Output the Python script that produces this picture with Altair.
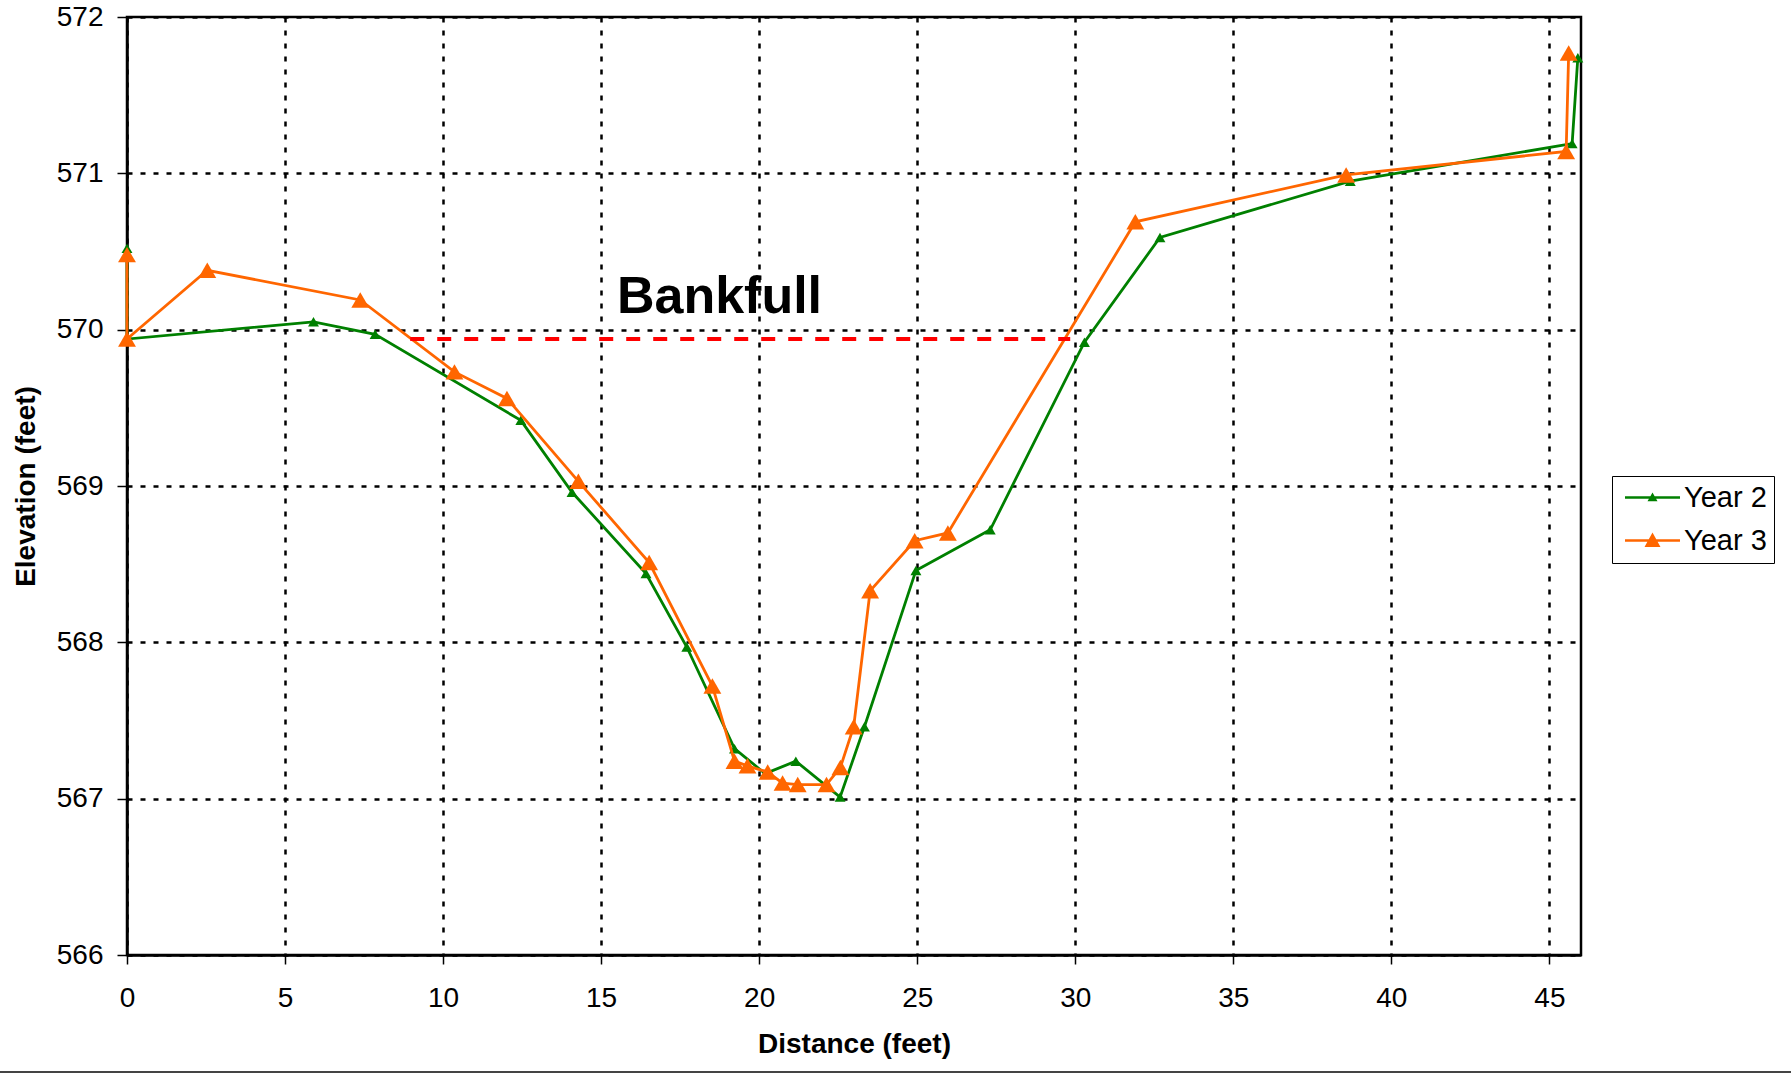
import altair as alt
import pandas as pd

FONT = "Liberation Sans"

series_names = ["Year 2", "Year 3"]
series_colors = ["#008000", "#FF6600"]
marker_sizes = [120, 320]

year2_x = [0, 0, 5.90, 7.85, 12.46, 14.08, 16.42, 17.71, 19.22, 20.19, 21.16,
           22.56, 23.33, 24.96, 27.31, 30.29, 32.68, 38.70, 45.72, 45.90]
year2_y = [570.52, 569.94, 570.05, 569.97, 569.42, 568.96, 568.44, 567.97, 567.32,
           567.16, 567.24, 567.01, 567.46, 568.46, 568.72, 569.92, 570.59, 570.95,
           571.19, 571.74]

year3_x = [0, 0, 2.54, 7.38, 10.36, 12.02, 14.28, 16.52, 18.52, 19.22, 19.63,
           20.27, 20.74, 21.22, 22.13, 22.57, 22.99, 23.51, 24.92, 25.97, 31.90,
           38.57, 45.53, 45.61]
year3_y = [570.48, 569.94, 570.38, 570.19, 569.73, 569.56, 569.03, 568.51, 567.72,
           567.24, 567.21, 567.17, 567.10, 567.09, 567.09, 567.20, 567.46, 568.33,
           568.65, 568.70, 570.69, 570.99, 571.14, 571.77]

bankfull_x_start = [8.96]
bankfull_x_end = [29.84]
bankfull_y = [569.94]
bankfull_label = ["Bankfull"]
bankfull_label_x = [15.5]
bankfull_label_y = [570.106]

x_ticks = [0, 5, 10, 15, 20, 25, 30, 35, 40, 45]
y_ticks = [566, 567, 568, 569, 570, 571, 572]
x_domain = [0, 46]
y_domain = [566, 572]

# legend symbols: line segment + triangle (custom SVG paths)
legend_paths = [
    "M-2.75,-0.12H2.75V0.12H-2.75Z M-0.5,0.38L0,-0.5L0.5,0.38Z",
    "M-2.75,-0.12H2.75V0.12H-2.75Z M-0.8,0.65L0,-0.8L0.8,0.65Z",
]

rows = []
for name, xs, ys in [("Year 2", year2_x, year2_y), ("Year 3", year3_x, year3_y)]:
    for i, (xv, yv) in enumerate(zip(xs, ys)):
        rows.append({"series": name, "idx": i, "x": xv, "y": yv})
df = pd.DataFrame(rows)

bank_df = pd.DataFrame({"x": bankfull_x_start, "x2": bankfull_x_end, "y": bankfull_y})
label_df = pd.DataFrame({"x": bankfull_label_x, "y": bankfull_label_y, "text": bankfull_label})

xscale = alt.Scale(domain=x_domain, nice=False, zero=False)
yscale = alt.Scale(domain=y_domain, nice=False, zero=False)
cscale = alt.Scale(domain=series_names, range=series_colors)

x_axis = alt.Axis(values=x_ticks, title="Distance (feet)", grid=True, format="d",
                  gridDash=[5, 8], gridColor="black", gridWidth=2.5, gridOpacity=1,
                  tickSize=9, tickWidth=1.5, tickColor="black", labelFlush=False,
                  labelPadding=20, titlePadding=18,
                  domainColor="black", domainWidth=2.5)
y_axis = alt.Axis(values=y_ticks, title="Elevation (feet)", grid=True, format="d",
                  gridDash=[5, 8], gridColor="black", gridWidth=2.5, gridOpacity=1,
                  tickSize=10, tickWidth=1.5, tickColor="black", labelFlush=False,
                  labelPadding=14, titlePadding=16,
                  domainColor="black", domainWidth=2.5)

base = alt.Chart(df)

layers = []
for i, (name, col, sz) in enumerate(zip(series_names, series_colors, marker_sizes)):
    sub = base.transform_filter(alt.datum.series == name)
    if i == 0:
        xenc = alt.X("x:Q", scale=xscale, axis=x_axis)
        yenc = alt.Y("y:Q", scale=yscale, axis=y_axis)
    else:
        xenc = alt.X("x:Q", scale=xscale)
        yenc = alt.Y("y:Q", scale=yscale)
    ln = sub.mark_line(strokeWidth=2.8, color=col).encode(
        x=xenc, y=yenc, order=alt.Order("idx:Q"),
    )
    pt = sub.mark_point(filled=True, opacity=1, shape="triangle-up", size=sz, color=col).encode(
        x=alt.X("x:Q", scale=xscale),
        y=alt.Y("y:Q", scale=yscale),
    )
    layers += [ln, pt]

legend_props = dict(
    title=None, orient="none", legendX=1485, legendY=459,
    labelFont=FONT, labelFontSize=29, labelColor="black",
    symbolSize=400, symbolOpacity=1, symbolStrokeWidth=0,
    strokeColor="black", fillColor="white", padding=7,
    rowPadding=13, symbolOffset=19, labelOffset=17,
)

legend_layer = base.mark_point(filled=True, opacity=0, size=400).encode(
    x=alt.X("x:Q", scale=xscale),
    y=alt.Y("y:Q", scale=yscale),
    color=alt.Color("series:N", scale=cscale, legend=alt.Legend(**legend_props)),
    shape=alt.Shape("series:N", scale=alt.Scale(domain=series_names, range=legend_paths),
                    legend=alt.Legend(**legend_props)),
)

bank_line = alt.Chart(bank_df).mark_rule(color="#FF0000", strokeWidth=4, strokeDash=[14, 13]).encode(
    x=alt.X("x:Q", scale=xscale),
    x2="x2:Q",
    y=alt.Y("y:Q", scale=yscale),
)

bank_text = alt.Chart(label_df).mark_text(
    font=FONT, fontSize=52, fontWeight="bold", align="left", baseline="alphabetic", color="black"
).encode(
    x=alt.X("x:Q", scale=xscale),
    y=alt.Y("y:Q", scale=yscale),
    text="text:N",
)

bottom_rule = alt.Chart(pd.DataFrame({"k": [0]})).mark_rule(
    color="#444444", strokeWidth=2, clip=False
).encode(x=alt.value(-127), x2=alt.value(1664), y=alt.value(1055))

chart = alt.layer(*layers, legend_layer, bank_line, bank_text, bottom_rule).properties(
    width=1454, height=938,
    padding={"left": 127, "top": 17, "right": 210, "bottom": 119},
    autosize=alt.AutoSizeParams(type="none"),
    background="white",
).configure_view(
    stroke="black", strokeWidth=2.5
).configure_axis(
    labelFont=FONT, labelFontSize=28, labelColor="black",
    titleFont=FONT, titleFontSize=28, titleFontWeight="bold", titleColor="black",
)

chart.save("out.html", embed_options={"renderer": "svg", "actions": False})
